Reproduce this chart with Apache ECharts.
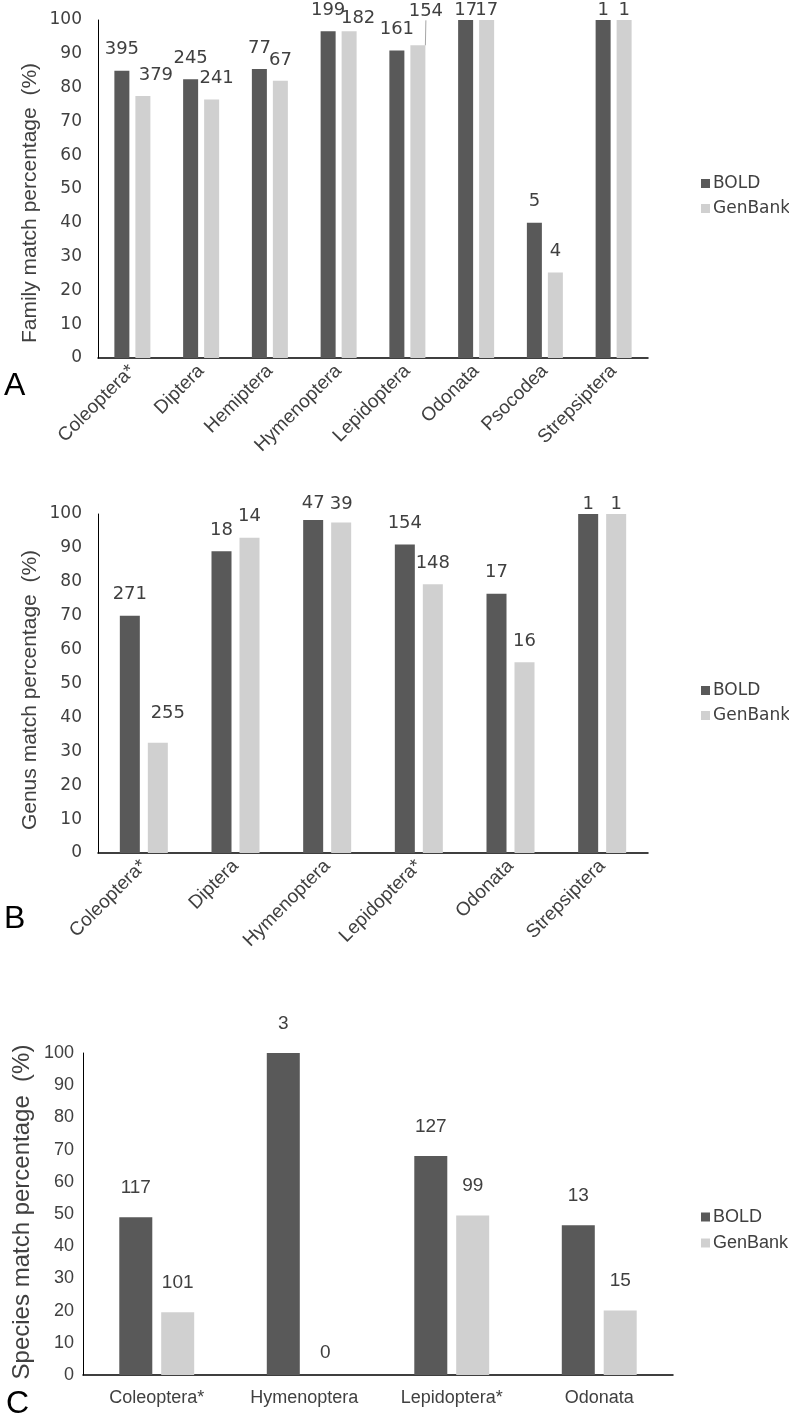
<!DOCTYPE html>
<html><head><meta charset="utf-8">
<script src="https://cdn.jsdelivr.net/npm/echarts@6/dist/echarts.min.js"></script>
<style>html,body{margin:0;padding:0;background:#fff}#c{width:789px;height:1414px}</style>
</head><body><div id="c"></div>
<script>
// ---- data ----
const seriesNames = ['BOLD', 'GenBank'];

const familyCategories = ['Coleoptera*', 'Diptera', 'Hemiptera', 'Hymenoptera', 'Lepidoptera', 'Odonata', 'Psocodea', 'Strepsiptera'];
const familyBold = [85, 82.5, 85.5, 96.7, 91, 100, 40, 100];
const familyGenBank = [77.5, 76.5, 82, 96.7, 92.5, 100, 25.3, 100];
const familyBoldN = [395, 245, 77, 199, 161, 17, 5, 1];
const familyGenBankN = [379, 241, 67, 182, 154, 17, 4, 1];

const genusCategories = ['Coleoptera*', 'Diptera', 'Hymenoptera', 'Lepidoptera*', 'Odonata', 'Strepsiptera'];
const genusBold = [70, 89, 98.2, 91, 76.5, 100];
const genusGenBank = [32.5, 93, 97.5, 79.3, 56.3, 100];
const genusBoldN = [271, 18, 47, 154, 17, 1];
const genusGenBankN = [255, 14, 39, 148, 16, 1];

const speciesCategories = ['Coleoptera*', 'Hymenoptera', 'Lepidoptera*', 'Odonata'];
const speciesBold = [49, 100, 68, 46.5];
const speciesGenBank = [19.5, 0, 49.5, 20];
const speciesBoldN = [117, 3, 127, 13];
const speciesGenBankN = [101, 0, 99, 15];

const yTitles = ['Family match percentage  (%)', 'Genus match percentage  (%)', 'Species match percentage  (%)'];
const panelLetters = ['A', 'B', 'C'];

// ---- styles ----
const DARK = '#595959', LIGHT = '#d0d0d0', TXT = '#404040';
const WIDE = 'DejaVu Sans';
const ARIAL = '"Liberation Sans", Arial, sans-serif';

const panels = [
  { cats: familyCategories, vals: [familyBold, familyGenBank], counts: [familyBoldN, familyGenBankN],
    grid: { left: 98, top: 20, width: 550, height: 338 }, barWidth: 15, barGap: '40%',
    font: WIDE, tick: 17, tickMargin: 16, lab: 18, rot: 45, xfont: ARIAL, xsize: 19, dist: 12,
    title: { x: 30, y: 203, size: 21 }, legendTop: 170, legendSize: 17, letter: { x: 4, y: 370 },
    shifts: [
      { 5: [0, 11], 7: [0, 11] },
      { 0: [13, 0], 1: [5, 0], 3: [9, 8], 4: [8, -13, true], 5: [0, 11], 7: [0, 11] }
    ] },
  { cats: genusCategories, vals: [genusBold, genusGenBank], counts: [genusBoldN, genusGenBankN],
    grid: { left: 98, top: 514, width: 550, height: 339 }, barWidth: 20, barGap: '40%',
    font: WIDE, tick: 17, tickMargin: 16, lab: 18, rot: 45, xfont: ARIAL, xsize: 19, dist: 12,
    title: { x: 30, y: 690, size: 21 }, legendTop: 677, legendSize: 17, letter: { x: 4, y: 903 },
    shifts: [
      { 2: [0, 4], 5: [0, 11] },
      { 0: [10, -8], 2: [0, 3], 5: [0, 11] }
    ] },
  { cats: speciesCategories, vals: [speciesBold, speciesGenBank], counts: [speciesBoldN, speciesGenBankN],
    grid: { left: 83, top: 1053, width: 590, height: 322 }, barWidth: 33, barGap: '27%',
    font: ARIAL, tick: 18, tickMargin: 9, lab: 19, rot: 0, xfont: ARIAL, xsize: 18, dist: 20,
    title: { x: 22, y: 1212, size: 24 }, legendTop: 1203, legendSize: 18, letter: { x: 6, y: 1388 },
    shifts: [{}, { 1: [0, 7] }] }
];

const option = { animation: false, backgroundColor: '#fff', grid: [], xAxis: [], yAxis: [], series: [], legend: [], graphic: [] };

panels.forEach((p, i) => {
  option.grid.push(Object.assign({ containLabel: false }, p.grid));
  option.xAxis.push({
    type: 'category', gridIndex: i, data: p.cats,
    axisLine: { show: true, lineStyle: { color: '#000', width: 1.5 } },
    axisTick: { show: false },
    axisLabel: { rotate: p.rot, color: TXT, fontFamily: p.xfont, fontSize: p.xsize, margin: p.rot ? 10 : 14, interval: 0 }
  });
  option.yAxis.push({
    type: 'value', gridIndex: i, min: 0, max: 100, interval: 10,
    axisLine: { show: true, lineStyle: { color: '#000', width: 1 } },
    axisTick: { show: false }, splitLine: { show: false },
    axisLabel: { color: TXT, fontFamily: p.font, fontSize: p.tick, margin: p.tickMargin }
  });
  [0, 1].forEach(s => {
    const counts = p.counts[s];
    const shift = p.shifts[s];
    const data = p.vals[s].map((v, k) => {
      const item = { value: v };
      const sh = shift[k];
      if (sh && sh[2]) item.labelLine = { show: true, lineStyle: { color: '#a6a6a6', width: 1 } };
      return item;
    });
    option.series.push({
      type: 'bar', name: seriesNames[s], xAxisIndex: i, yAxisIndex: i,
      barWidth: p.barWidth, barGap: p.barGap,
      itemStyle: { color: s === 0 ? DARK : LIGHT },
      label: {
        show: true, position: 'top', distance: p.dist, color: TXT,
        fontFamily: p.font, fontSize: p.lab,
        formatter: prm => String(counts[prm.dataIndex])
      },
      labelLine: { show: false },
      labelLayout: prm => {
        const sh = shift[prm.dataIndex];
        if (sh) return { dx: sh[0], dy: sh[1] };
        return {};
      },
      data
    });
  });
  option.legend.push({
    data: seriesNames, orient: 'vertical', left: 696, top: p.legendTop,
    icon: 'rect', itemWidth: 9, itemHeight: 9, itemGap: 8,
    textStyle: { color: TXT, fontFamily: p.font, fontSize: p.legendSize, padding: [0, 0, 0, -2] },
    selectedMode: false
  });
  option.graphic.push({
    type: 'text', x: p.title.x, y: p.title.y, rotation: Math.PI / 2,
    style: { text: yTitles[i], fill: TXT, align: 'center', verticalAlign: 'middle',
      font: p.title.size + 'px "Liberation Sans", Arial, sans-serif' }
  });
  option.graphic.push({
    type: 'text', left: p.letter.x, top: p.letter.y,
    style: { text: panelLetters[i], fill: '#000', font: '32px "Liberation Sans", Arial, sans-serif' }
  });
});

const chart = echarts.init(document.getElementById('c'), null, { renderer: 'canvas' });
chart.setOption(option);
</script>
</body></html>
